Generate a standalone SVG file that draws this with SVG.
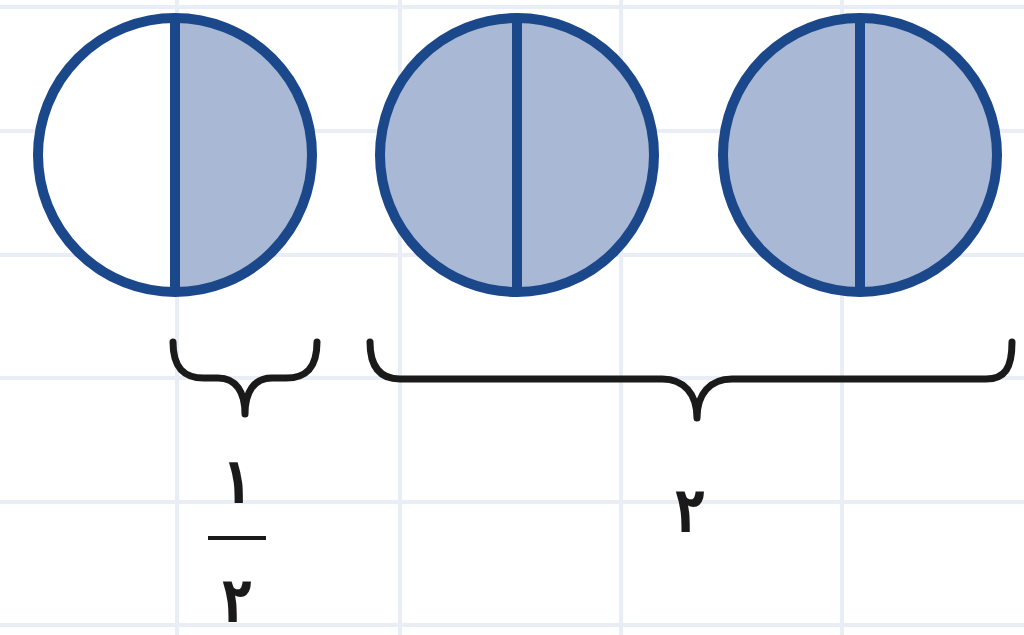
<svg xmlns="http://www.w3.org/2000/svg" width="1024" height="635" viewBox="0 0 1024 635">
<style>
.grid line{stroke:#e9edf5;stroke-width:4}
.ring{fill:none;stroke:#1b478b;stroke-width:10}
.div{stroke:#1b478b;stroke-width:10}
.half{fill:#a9b8d4}
.brace{fill:none;stroke:#1a1a1a;stroke-width:7;stroke-linecap:round;stroke-linejoin:round}
.num{font-family:"DejaVu Sans",sans-serif;font-size:64px;font-weight:bold;fill:#1a1a1a;text-anchor:middle}
</style>
<rect width="1024" height="635" fill="#ffffff"/>
<g class="grid">
<line x1="0" y1="7" x2="1024" y2="7"/>
<line x1="0" y1="131" x2="1024" y2="131"/>
<line x1="0" y1="255" x2="1024" y2="255"/>
<line x1="0" y1="378" x2="1024" y2="378"/>
<line x1="0" y1="502" x2="1024" y2="502"/>
<line x1="0" y1="625" x2="1024" y2="625"/>
<line x1="177" y1="0" x2="177" y2="635"/>
<line x1="400" y1="0" x2="400" y2="635"/>
<line x1="621" y1="0" x2="621" y2="635"/>
<line x1="842" y1="0" x2="842" y2="635"/>
</g>
<g id="circle1">
<path d="M175,18 A137,137 0 0 0 175,292 Z" fill="#ffffff"/>
<path class="half" d="M175,18 A137,137 0 0 1 175,292 Z"/>
<circle class="ring" cx="175" cy="155" r="137"/>
<line class="div" x1="175" y1="18" x2="175" y2="292"/>
</g>
<g id="circle2">
<circle class="half" cx="517" cy="155" r="137"/>
<circle class="ring" cx="517" cy="155" r="137"/>
<line class="div" x1="517" y1="18" x2="517" y2="292"/>
</g>
<g id="circle3">
<circle class="half" cx="860" cy="155" r="137"/>
<circle class="ring" cx="860" cy="155" r="137"/>
<line class="div" x1="860" y1="18" x2="860" y2="292"/>
</g>
<g id="connectors">
<path class="brace" d="M173,342 C173,368 184,378 204,378 L218,378 C236,378 245,392 245,414 C245,392 254,378 272,378 L286,378 C306,378 317,368 317,342"/>
<path class="brace" d="M370,342 C370,368 381,379 400,379 L662,379 C684,379 697,394 697,418 C697,394 710,379 732,379 L986,379 C1005,379 1012,368 1012,342"/>
</g>
<g id="label-half">
<text class="num" x="237" y="503" transform="translate(237 0) scale(0.75 1) translate(-237 0)">١</text>
<line x1="208" y1="538" x2="266" y2="538" stroke="#1a1a1a" stroke-width="4"/>
<text class="num" x="237" y="622" transform="translate(237 0) scale(0.75 1) translate(-237 0)">٢</text>
</g>
<g id="label-two">
<text class="num" x="690" y="532" transform="translate(690 0) scale(0.75 1) translate(-690 0)">٢</text>
</g>
</svg>
